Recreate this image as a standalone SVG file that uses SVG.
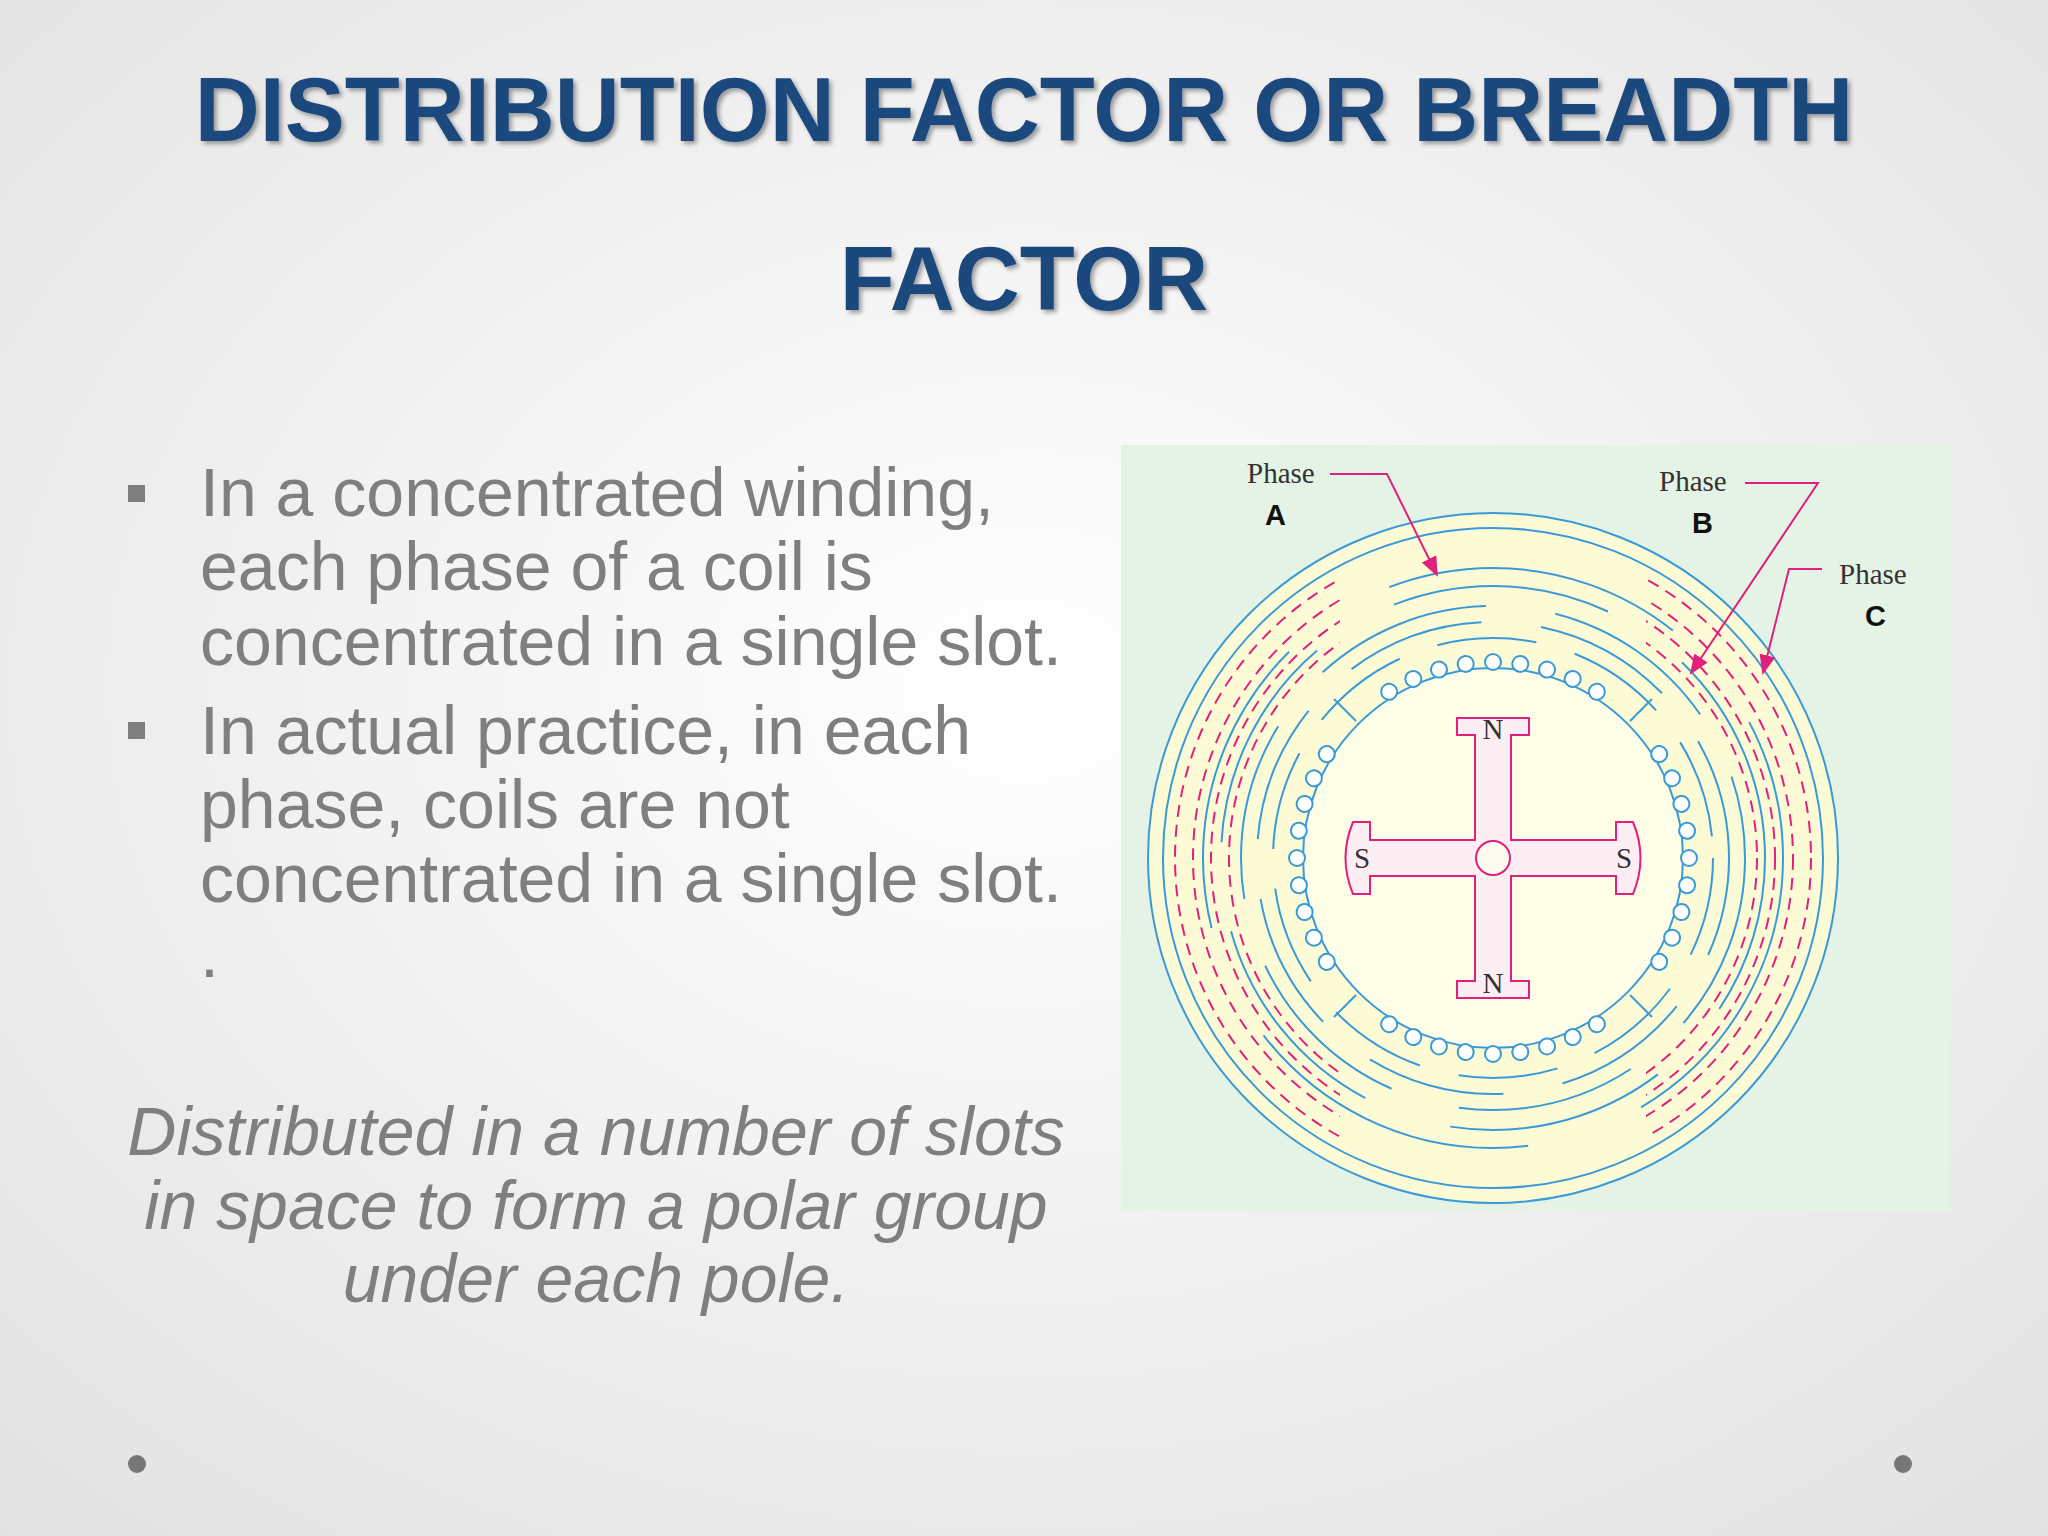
<svg xmlns="http://www.w3.org/2000/svg" xmlns:xlink="http://www.w3.org/1999/xlink" width="2048" height="1536" viewBox="0 0 2048 1536">
<defs>
<radialGradient id="bg" cx="50%" cy="45%" r="75%"><stop offset="0" stop-color="#ffffff"/><stop offset="1" stop-color="#e2e2e2"/></radialGradient>
<filter id="sh"><feDropShadow dx="3" dy="3" stdDeviation="2" flood-color="#000" flood-opacity="0.35"/></filter>
<circle id="slot" cx="1493" cy="662" r="8" fill="#fff" stroke="#3a9ad6" stroke-width="2"/>
<marker id="ar" markerWidth="10" markerHeight="10" refX="9" refY="5" orient="auto"><path d="M0,1 L10,5 L0,9 Z" fill="#e0207a"/></marker>
<clipPath id="sides"><rect x="1100" y="440" width="240" height="800"/><rect x="1646" y="440" width="320" height="800"/></clipPath>
</defs>
<style>
.title{font-family:"Liberation Sans",Arial,sans-serif;font-weight:bold;font-size:90px;fill:#1f497d;text-anchor:middle}
.body{font-family:"Liberation Sans",Arial,sans-serif;font-size:68px;fill:#7f7f7f}
.it{font-family:"Liberation Sans",Arial,sans-serif;font-style:italic;font-size:68px;fill:#7f7f7f;text-anchor:middle}
.ph{font-family:"Liberation Serif","Times New Roman",serif;font-size:29px;fill:#333}
.pl{font-family:"Liberation Sans",Arial,sans-serif;font-weight:bold;font-size:29px;fill:#111}
.bw{fill:none;stroke:#3a9ad6;stroke-width:2}
.pk{fill:none;stroke:#e0207a;stroke-width:2}
.pd{fill:none;stroke:#e0207a;stroke-width:2;stroke-dasharray:12 8}
</style>
<rect width="2048" height="1536" fill="url(#bg)"/>
<g id="title" filter="url(#sh)">
<text class="title" x="1024" y="141">DISTRIBUTION FACTOR OR BREADTH</text>
<text class="title" x="1024" y="310">FACTOR</text>
</g>
<g id="bullets">
<rect x="128" y="485" width="17" height="17" fill="#7f7f7f"/>
<text class="body" x="200" y="516">In a concentrated winding,</text>
<text class="body" x="200" y="590">each phase of a coil is</text>
<text class="body" x="200" y="665">concentrated in a single slot.</text>
<rect x="128" y="722" width="17" height="17" fill="#7f7f7f"/>
<text class="body" x="200" y="754">In actual practice, in each</text>
<text class="body" x="200" y="828">phase, coils are not</text>
<text class="body" x="200" y="902">concentrated in a single slot.</text>
<text class="body" x="200" y="977">.</text>
</g>
<g id="italic">
<text class="it" x="596" y="1155">Distributed in a number of slots</text>
<text class="it" x="596" y="1229">in space to form a polar group</text>
<text class="it" x="596" y="1302">under each pole.</text>
</g>
<circle cx="137" cy="1464" r="9" fill="#777"/>
<circle cx="1903" cy="1464" r="9" fill="#777"/>
<g id="diagram">
<rect x="1121" y="445" width="828" height="766" fill="#e4f3e6"/>
<circle cx="1493" cy="858" r="345" fill="#fdfbd6" stroke="#3a9ad6" stroke-width="2"/>
<circle cx="1493" cy="858" r="330" class="bw"/>
<g clip-path="url(#sides)">
<circle cx="1493" cy="858" r="318" class="pd"/>
<circle cx="1493" cy="858" r="300" class="pd"/>
<circle cx="1493" cy="858" r="282" class="pd"/>
<circle cx="1493" cy="858" r="264" class="pd"/>
</g>
<circle cx="1493" cy="858" r="290" class="bw" stroke-dasharray="300 120"/>
<circle cx="1493" cy="858" r="272" class="bw" stroke-dasharray="220 90" stroke-dashoffset="60"/>
<circle cx="1493" cy="858" r="252" class="bw" stroke-dasharray="180 70"/>
<circle cx="1493" cy="858" r="236" class="bw" stroke-dasharray="140 60" stroke-dashoffset="40"/>
<circle cx="1493" cy="858" r="220" class="bw" stroke-dasharray="100 40"/>
<circle cx="1493" cy="858" r="190" fill="#fefde8" stroke="#3a9ad6" stroke-width="2"/>
<g id="slots">
<use xlink:href="#slot" transform="rotate(-32 1493 858)"/><use xlink:href="#slot" transform="rotate(-24 1493 858)"/><use xlink:href="#slot" transform="rotate(-16 1493 858)"/><use xlink:href="#slot" transform="rotate(-8 1493 858)"/><use xlink:href="#slot"/><use xlink:href="#slot" transform="rotate(8 1493 858)"/><use xlink:href="#slot" transform="rotate(16 1493 858)"/><use xlink:href="#slot" transform="rotate(24 1493 858)"/><use xlink:href="#slot" transform="rotate(32 1493 858)"/>
<use xlink:href="#slot" transform="rotate(58 1493 858)"/><use xlink:href="#slot" transform="rotate(66 1493 858)"/><use xlink:href="#slot" transform="rotate(74 1493 858)"/><use xlink:href="#slot" transform="rotate(82 1493 858)"/><use xlink:href="#slot" transform="rotate(90 1493 858)"/><use xlink:href="#slot" transform="rotate(98 1493 858)"/><use xlink:href="#slot" transform="rotate(106 1493 858)"/><use xlink:href="#slot" transform="rotate(114 1493 858)"/><use xlink:href="#slot" transform="rotate(122 1493 858)"/>
<use xlink:href="#slot" transform="rotate(148 1493 858)"/><use xlink:href="#slot" transform="rotate(156 1493 858)"/><use xlink:href="#slot" transform="rotate(164 1493 858)"/><use xlink:href="#slot" transform="rotate(172 1493 858)"/><use xlink:href="#slot" transform="rotate(180 1493 858)"/><use xlink:href="#slot" transform="rotate(188 1493 858)"/><use xlink:href="#slot" transform="rotate(196 1493 858)"/><use xlink:href="#slot" transform="rotate(204 1493 858)"/><use xlink:href="#slot" transform="rotate(212 1493 858)"/>
<use xlink:href="#slot" transform="rotate(238 1493 858)"/><use xlink:href="#slot" transform="rotate(246 1493 858)"/><use xlink:href="#slot" transform="rotate(254 1493 858)"/><use xlink:href="#slot" transform="rotate(262 1493 858)"/><use xlink:href="#slot" transform="rotate(270 1493 858)"/><use xlink:href="#slot" transform="rotate(278 1493 858)"/><use xlink:href="#slot" transform="rotate(286 1493 858)"/><use xlink:href="#slot" transform="rotate(294 1493 858)"/><use xlink:href="#slot" transform="rotate(302 1493 858)"/>
</g>
<g stroke="#3a9ad6" stroke-width="2">
<line x1="1630" y1="721" x2="1652" y2="699"/>
<line x1="1630" y1="721" x2="1652" y2="699" transform="rotate(90 1493 858)"/>
<line x1="1630" y1="721" x2="1652" y2="699" transform="rotate(180 1493 858)"/>
<line x1="1630" y1="721" x2="1652" y2="699" transform="rotate(270 1493 858)"/>
</g>
<g id="rotor" fill="#fdeef3" stroke="#e0207a" stroke-width="2">
<path d="M1475,735 L1457,735 L1457,718 L1529,718 L1529,735 L1511,735 L1511,840 L1616,840 L1616,822 L1633,822 Q1648,858 1633,894 L1616,894 L1616,876 L1511,876 L1511,981 L1529,981 L1529,998 L1457,998 L1457,981 L1475,981 L1475,876 L1370,876 L1370,894 L1353,894 Q1338,858 1353,822 L1370,822 L1370,840 L1475,840 Z"/>
<circle cx="1493" cy="858" r="17" fill="#fdfbf0"/>
</g>
<g class="ph" text-anchor="middle"><text x="1493" y="739">N</text><text x="1493" y="993">N</text><text x="1362" y="868">S</text><text x="1624" y="868">S</text></g>
<g id="labels">
<text class="ph" x="1247" y="483">Phase</text><text class="pl" x="1265" y="525">A</text>
<text class="ph" x="1659" y="491">Phase</text><text class="pl" x="1692" y="533">B</text>
<text class="ph" x="1839" y="584">Phase</text><text class="pl" x="1865" y="626">C</text>
</g>
<g id="connectors">
<polyline class="pk" points="1330,474 1387,474 1437,575" marker-end="url(#ar)"/>
<polyline class="pk" points="1745,483 1818,483 1691,673" marker-end="url(#ar)"/>
<polyline class="pk" points="1822,569 1789,569 1763,673" marker-end="url(#ar)"/>
</g>
</g>
</svg>
